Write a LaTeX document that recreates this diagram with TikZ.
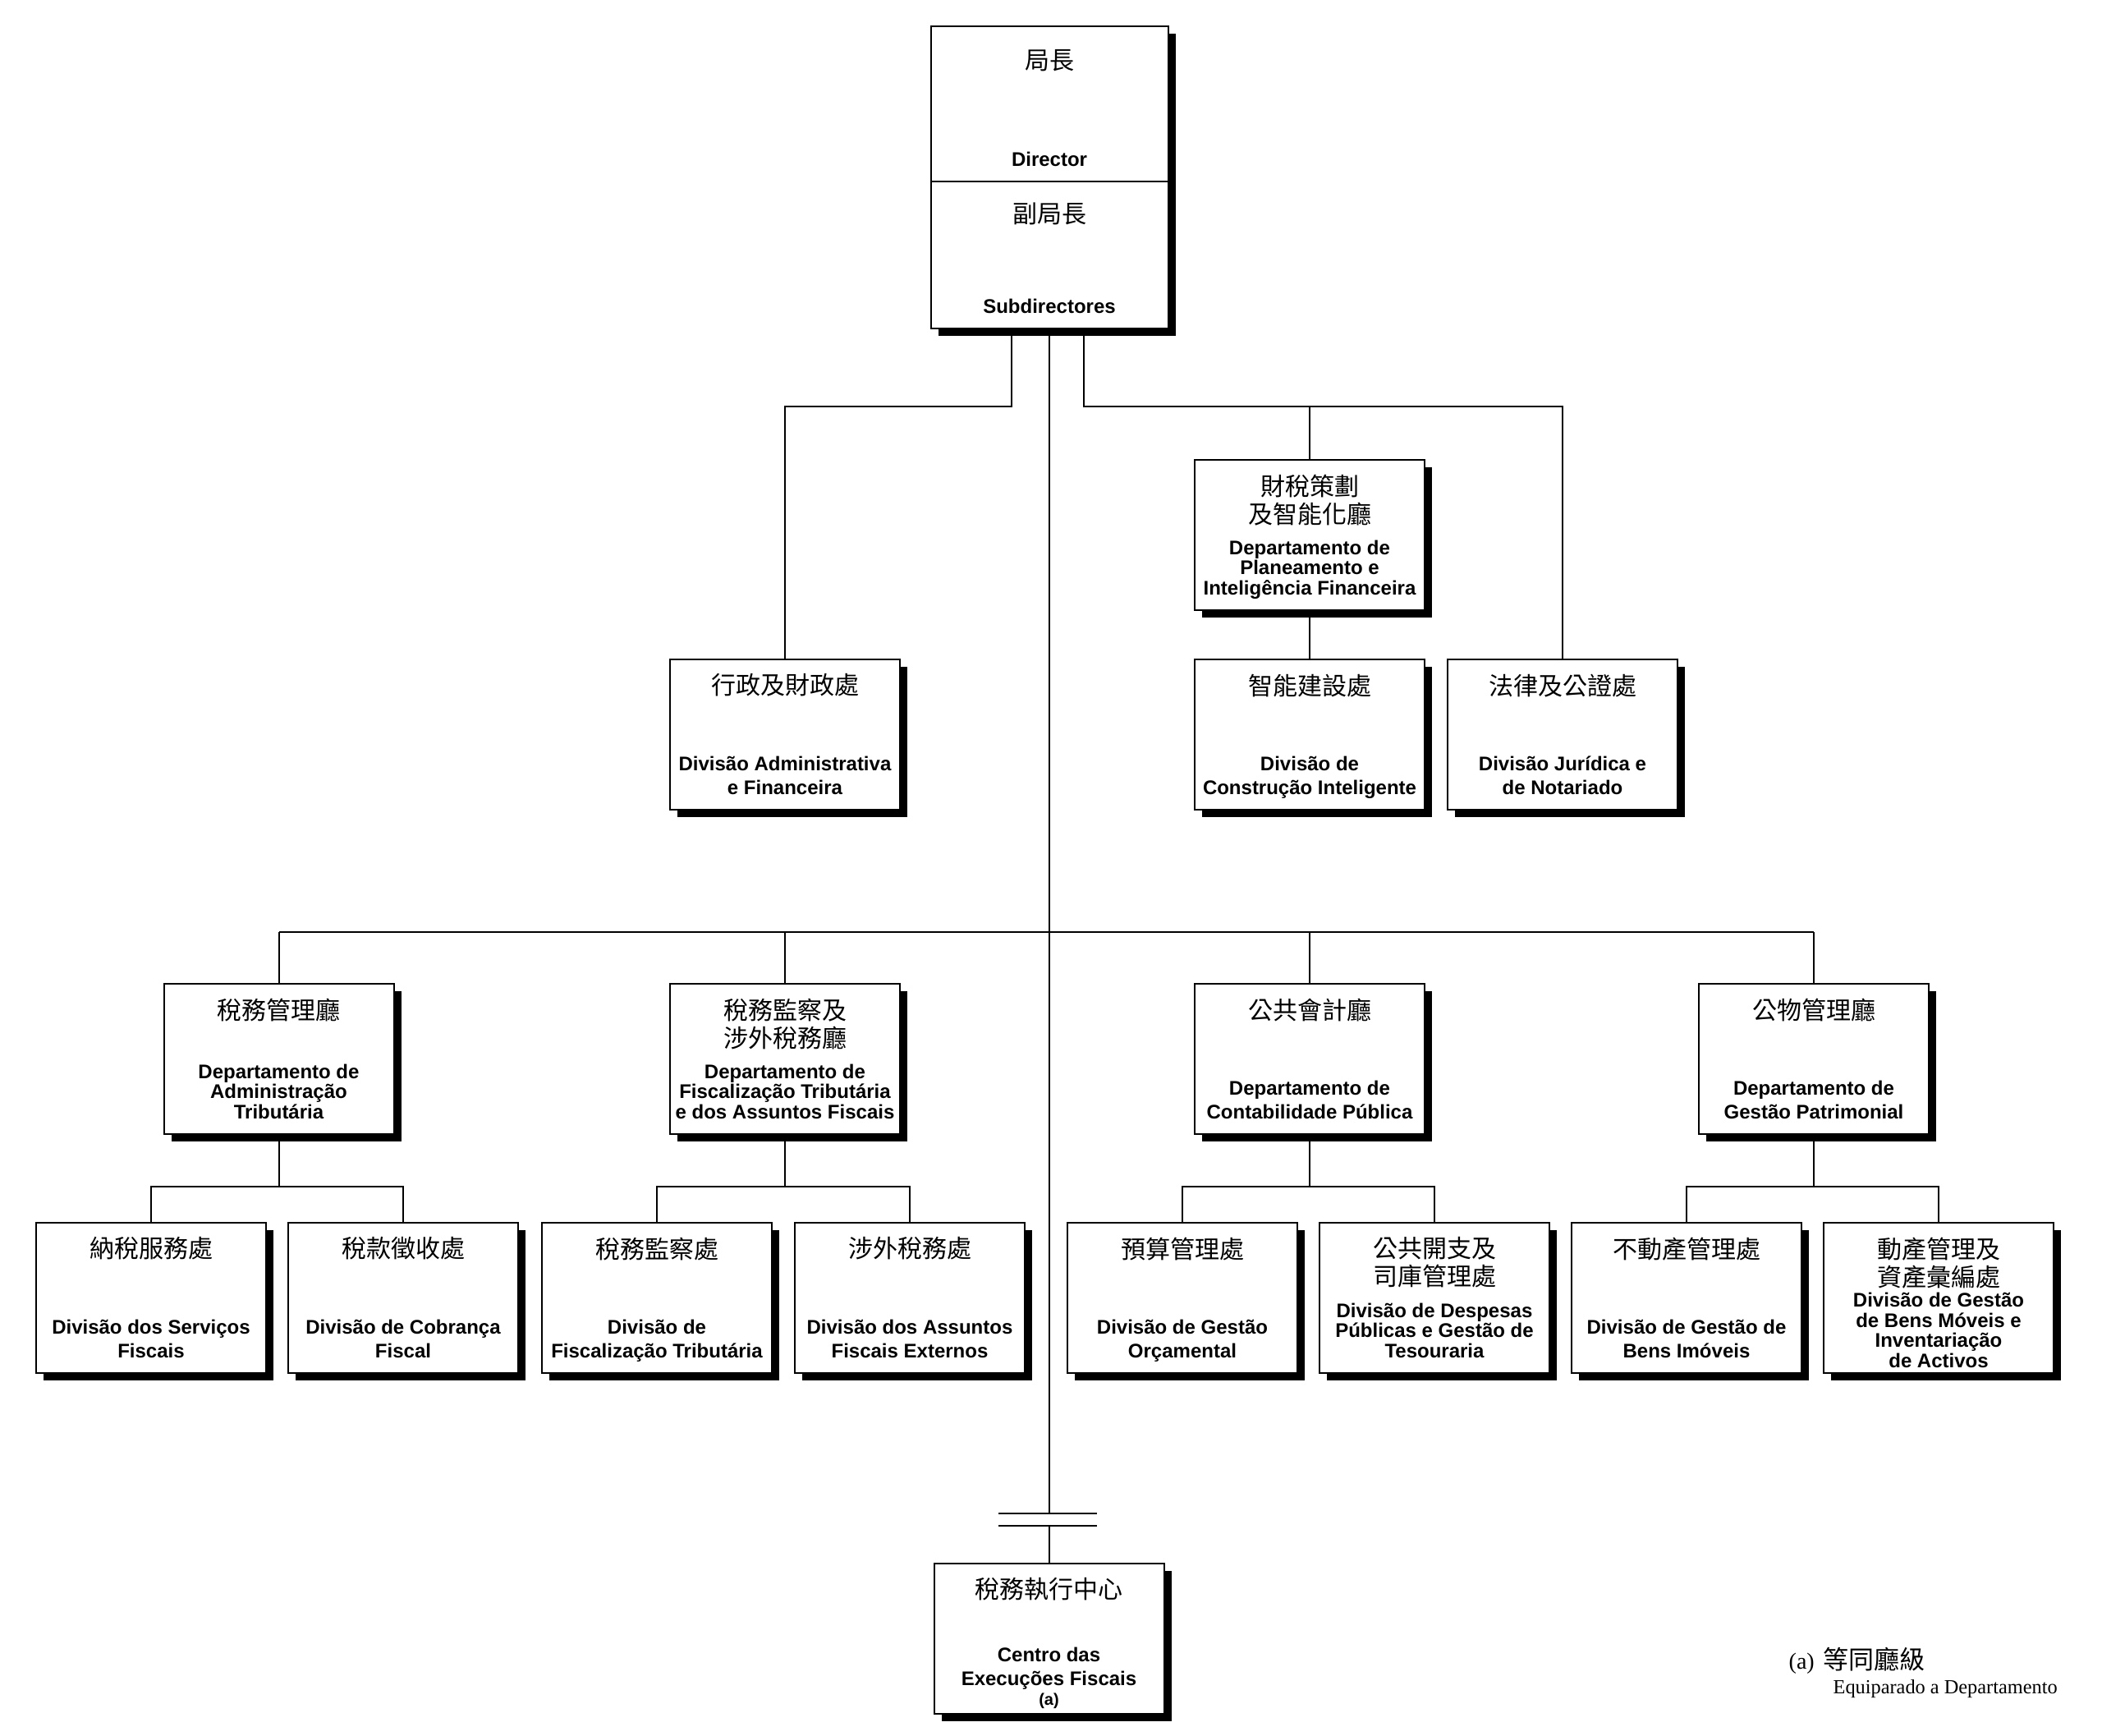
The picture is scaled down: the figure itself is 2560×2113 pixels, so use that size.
\documentclass[tikz,border=0pt]{standalone}
\usepackage{fontspec}
\setmainfont{Liberation Sans}
\newfontfamily\cjk{Noto Sans CJK TC}
\newfontfamily\tms{Liberation Serif}
\usetikzlibrary{shadows}

\begin{document}
\begin{tikzpicture}[x=0.3pt,y=-0.3pt,
    unit/.style={draw, line width=0.6pt, fill=white, minimum width=84pt, minimum height=54.9pt, inner sep=0pt,
      drop shadow={shadow xshift=2.7pt, shadow yshift=-2.7pt, fill=black, opacity=1}},
    cn/.style={anchor=north, yshift=-5.4pt, inner sep=0pt, align=center, font=\cjk\fontsize{9}{10.2}\selectfont},
    pt/.style={anchor=south, yshift=5.7pt, inner sep=0pt, align=center, text depth=0pt, font=\bfseries\fontsize{7.2}{8.7}\selectfont},
    ptt/.style={pt, font=\bfseries\fontsize{7.2}{7.35}\selectfont},
    link/.style={line width=0.6pt},
    note/.style={anchor=base west, inner sep=0pt}]
  \useasboundingbox (0,0) rectangle (2560,2113);

  % director and subdirectors
  \node[unit, minimum width=86.7pt, minimum height=56.7pt,
    label={[cn, yshift=-3.3pt]north:局長}, label={[pt]south:Director}] (dir) at (1278,126.5) {};
  \node[unit, minimum width=86.7pt, minimum height=53.7pt,
    label={[cn, yshift=-2.4pt]north:副局長}, label={[pt]south:Subdirectores}] (sub) at (1278,310.5) {};

  % units under the subdirectors
  \node[unit, label={[cn]north:行政及財政處}, label={[pt]south:Divisão Administrativa\\e Financeira}] (adm) at (956,894.5) {};
  \node[unit, label={[cn]north:財稅策劃\\及智能化廳}, label={[ptt]south:Departamento de\\Planeamento e\\Inteligência Financeira}] (plan) at (1595,651.5) {};
  \node[unit, label={[cn]north:智能建設處}, label={[pt]south:Divisão de\\Construção Inteligente}] (smart) at (1595,894.5) {};
  \node[unit, label={[cn]north:法律及公證處}, label={[pt]south:Divisão Jurídica e\\de Notariado}] (legal) at (1903,894.5) {};

  % departments
  \node[unit, label={[cn]north:稅務管理廳}, label={[ptt]south:Departamento de\\Administração\\Tributária}] (tax) at (339.5,1289.5) {};
  \node[unit, label={[cn]north:稅務監察及\\涉外稅務廳}, label={[ptt]south:Departamento de\\Fiscalização Tributária\\e dos Assuntos Fiscais}] (insp) at (956,1289.5) {};
  \node[unit, label={[cn]north:公共會計廳}, label={[pt]south:Departamento de\\Contabilidade Pública}] (acct) at (1595,1289.5) {};
  \node[unit, label={[cn]north:公物管理廳}, label={[pt]south:Departamento de\\Gestão Patrimonial}] (prop) at (2209,1289.5) {};

  % divisions
  \node[unit, label={[cn]north:納稅服務處}, label={[pt]south:Divisão dos Serviços\\Fiscais}] (svc) at (184,1580.5) {};
  \node[unit, label={[cn]north:稅款徵收處}, label={[pt]south:Divisão de Cobrança\\Fiscal}] (col) at (491,1580.5) {};
  \node[unit, label={[cn]north:稅務監察處}, label={[pt]south:Divisão de\\Fiscalização Tributária}] (insd) at (800,1580.5) {};
  \node[unit, label={[cn]north:涉外稅務處}, label={[pt]south:Divisão dos Assuntos\\Fiscais Externos}] (ext) at (1108,1580.5) {};
  \node[unit, label={[cn]north:預算管理處}, label={[pt]south:Divisão de Gestão\\Orçamental}] (bud) at (1440,1580.5) {};
  \node[unit, label={[cn]north:公共開支及\\司庫管理處}, label={[ptt]south:Divisão de Despesas\\Públicas e Gestão de\\Tesouraria}] (exp) at (1747,1580.5) {};
  \node[unit, label={[cn]north:不動產管理處}, label={[pt]south:Divisão de Gestão de\\Bens Imóveis}] (imm) at (2054,1580.5) {};
  \node[unit, label={[cn]north:動產管理及\\資產彙編處}, label={[ptt, yshift=-3.6pt]south:Divisão de Gestão\\de Bens Móveis e\\Inventariação\\de Activos}] (mov) at (2361,1580.5) {};

  % centre
  \node[unit, label={[cn]north:稅務執行中心},
    label={[pt, yshift=-2.4pt]south:Centro das\\Execuções Fiscais\\[-1.5pt]{\fontsize{6}{6}\selectfont(a)}}] (ctr) at (1277.5,1995.5) {};

  % connectors
  \coordinate (jl) at (1232,495);
  \coordinate (jr) at (1320,495);
  \coordinate (hb) at (0,1135);
  \coordinate (sb) at (0,1445);
  \coordinate (bk1) at (0,1843);
  \coordinate (bk2) at (0,1858);
  \draw[link] (sub.south -| jl) -- (jl) -| (adm.north);
  \draw[link] (sub.south -| jr) -- (jr) -| (legal.north);
  \draw[link] (plan.north) -- (plan.north |- jr);
  \draw[link] (plan.south) -- (smart.north);
  \draw[link] (sub.south) -- (sub.south |- bk1);
  \draw[link] (1216,1843) -- (1336,1843);
  \draw[link] (1216,1858) -- (1336,1858);
  \draw[link] (ctr.north) -- (ctr.north |- bk2);
  \draw[link] (tax.north |- hb) -- (prop.north |- hb);
  \foreach \d in {tax,insp,acct,prop}
    \draw[link] (\d.north) -- (\d.north |- hb);
  \foreach \d/\a/\b in {tax/svc/col,insp/insd/ext,acct/bud/exp,prop/imm/mov} {
    \draw[link] (\d.south) -- (\d.south |- sb);
    \draw[link] (\a.north) |- (\b.north |- sb) -- (\b.north);
  }

  % footnote
  \node[note, font=\tms\fontsize{8.4}{9}\selectfont] (fa) at (2178,2032) {(a)\hspace{3.2pt}{\cjk\fontsize{9.3}{9.3}\selectfont 等同廳級}};
  \node[note, font=\tms\fontsize{7.3}{8}\selectfont] (fb) at (2232,2062) {Equiparado a Departamento};
\end{tikzpicture}
\end{document}
